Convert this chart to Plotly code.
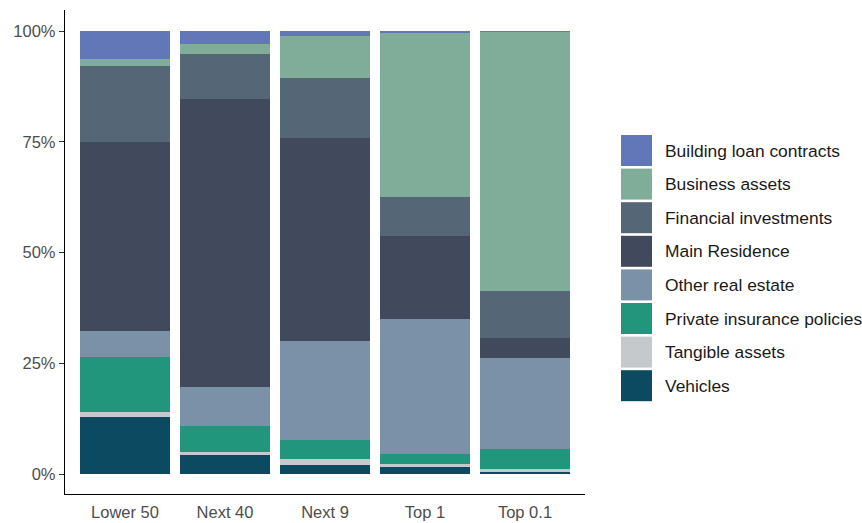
import plotly.graph_objects as go

# Wealth composition by group (share of gross wealth, %)
groups = ["Lower 50", "Next 40", "Next 9", "Top 1", "Top 0.1"]

vehicles = [12.9, 4.3, 2.0, 1.6, 0.5]
tangible_assets = [1.1, 0.7, 1.4, 0.7, 0.6]
private_insurance = [12.4, 5.8, 4.3, 2.2, 4.5]
other_real_estate = [5.9, 8.9, 22.3, 30.5, 20.6]
main_residence = [42.6, 65.0, 45.8, 18.7, 4.5]
financial_investments = [17.2, 10.1, 13.6, 8.8, 10.6]
business_assets = [1.6, 2.3, 9.5, 37.0, 58.5]
building_loan = [6.3, 2.9, 1.1, 0.5, 0.2]

y_ticks = [0, 25, 50, 75, 100]
y_tick_labels = ["0%", "25%", "50%", "75%", "100%"]

# stacking order, bottom first
series = [
    ("Vehicles", vehicles, "#0B4A60"),
    ("Tangible assets", tangible_assets, "#C6C9CC"),
    ("Private insurance policies", private_insurance, "#22967D"),
    ("Other real estate", other_real_estate, "#7B91A8"),
    ("Main Residence", main_residence, "#414A5D"),
    ("Financial investments", financial_investments, "#556676"),
    ("Business assets", business_assets, "#7FAD9A"),
    ("Building loan contracts", building_loan, "#6177B7"),
]

W, H = 862, 523
L, R, T, B = 65, 277, 10, 29
FONT = "Liberation Sans, Arial, sans-serif"

fig = go.Figure()
for name, vals, col in series:
    fig.add_trace(go.Bar(
        x=groups, y=vals, name=name, width=0.9,
        marker=dict(color=col, line=dict(width=0)),
        showlegend=False,
    ))

fig.update_layout(
    barmode="stack",
    width=W, height=H,
    margin=dict(l=L, r=R, t=T, b=B),
    plot_bgcolor="white",
    paper_bgcolor="white",
    font=dict(family=FONT, size=17, color="#4D4D4D"),
    xaxis=dict(
        range=[-0.6, 4.6], showline=True, linecolor="black", linewidth=1.3,
        showgrid=False, zeroline=False, ticks="", automargin=False,
        ticklabelstandoff=3,
        tickfont=dict(size=16.5, color="#4D4D4D"),
    ),
    yaxis=dict(
        range=[-4.51, 104.74], showline=True, linecolor="black", linewidth=1.3,
        showgrid=False, zeroline=False, ticks="outside", ticklen=5, tickwidth=1.1,
        tickcolor="#333333", tickmode="array", tickvals=y_ticks, ticktext=y_tick_labels,
        tickfont=dict(size=16.5, color="#4D4D4D"), automargin=False,
    ),
)


# hand-drawn legend with big square keys (top item first)
def px_to_paper(px, py):
    return (px - L) / (W - L - R), (H - B - py) / (H - T - B)


key_x0, key_size, pitch, first_center = 621, 31, 33.6, 150.5
for i, (name, vals, col) in enumerate(reversed(series)):
    cy = first_center + i * pitch
    x0, y0 = px_to_paper(key_x0, cy + key_size / 2)
    x1, y1 = px_to_paper(key_x0 + key_size, cy - key_size / 2)
    fig.add_shape(type="rect", xref="paper", yref="paper",
                  x0=x0, x1=x1, y0=y0, y1=y1,
                  fillcolor=col, line=dict(width=0))
    tx, ty = px_to_paper(key_x0 + key_size + 11, cy)
    fig.add_annotation(text=name, xref="paper", yref="paper", x=tx, y=ty,
                       xanchor="left", yanchor="middle", showarrow=False,
                       font=dict(family=FONT, size=17.4, color="#1A1A1A"))

# page body margin would push the figure off the right edge
fig.write_html("out.html", config={"displayModeBar": False},
               post_script="document.body.style.margin='0';")
